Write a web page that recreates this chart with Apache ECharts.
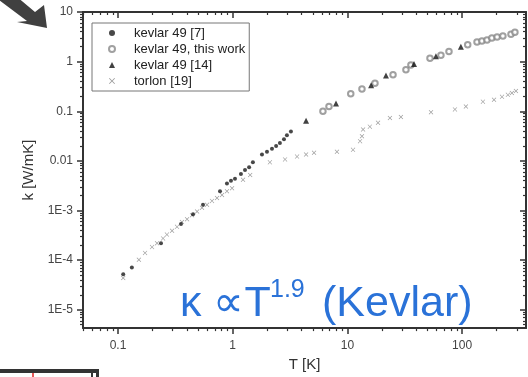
<!DOCTYPE html>
<html>
<head>
<meta charset="utf-8">
<script src="https://cdn.jsdelivr.net/npm/echarts@6/dist/echarts.min.js"></script>
<style>
  html, body { margin: 0; padding: 0; background: #fff; }
  #chart { width: 528px; height: 377px; }
</style>
</head>
<body>
<div id="chart"></div>
<script>
// axis ranges (log scale)
const X_MIN = 0.0495, X_MAX = 361
const Y_MIN = 4.27e-6, Y_MAX = 10
const X_MAJOR = [0.1, 1, 10, 100]
const Y_MAJOR = [1e-5, 1e-4, 1e-3, 0.01, 0.1, 1, 10]
const Y_LABELS = ['1E-5', '1E-4', '1E-3', '0.01', '0.1', '1', '10']
const MINOR_MULT = [2, 3, 4, 5, 6, 7, 8, 9]
const X_DECADES = [0.01, 0.1, 1, 10, 100]
const Y_DECADES = [1e-6, 1e-5, 1e-4, 1e-3, 0.01, 0.1, 1]

// kevlar 49 [7]
const k7T = [0.111, 0.132, 0.237, 0.354, 0.451, 0.551, 0.775, 0.891, 0.966, 1.047, 1.18, 1.28, 1.39, 1.50, 1.80, 1.99, 2.20, 2.39, 2.58, 2.80, 2.97, 3.22]
const k7K = [5.2e-5, 7.1e-5, 2.19e-4, 5.35e-4, 8.36e-4, 1.31e-3, 2.44e-3, 3.5e-3, 4.0e-3, 4.38e-3, 5.47e-3, 6.54e-3, 7.48e-3, 9.36e-3, 0.0134, 0.0153, 0.0175, 0.0200, 0.0229, 0.0273, 0.0327, 0.0391]

// kevlar 49, this work
const kwT = [6.12, 6.91, 10.7, 13.4, 17.4, 25.0, 32.4, 35.8, 52.5, 65.4, 76.9, 112, 135, 149, 165, 182, 202, 227, 267, 289]
const kwK = [0.100, 0.125, 0.224, 0.280, 0.366, 0.547, 0.684, 0.855, 1.17, 1.34, 1.60, 2.19, 2.50, 2.61, 2.73, 2.99, 3.13, 3.27, 3.58, 3.91]

// kevlar 49 [14]
const k14T = [4.36, 7.96, 16.1, 21.7, 38.1, 59.2, 97.7]
const k14K = [0.064, 0.143, 0.334, 0.523, 0.894, 1.28, 2.0]

// torlon [19]
const torT = [0.111, 0.152, 0.172, 0.198, 0.219, 0.247, 0.267, 0.296, 0.327, 0.361, 0.400, 0.442, 0.489, 0.540, 0.597, 0.660, 0.730, 0.807, 0.891, 0.987, 1.23, 1.42, 2.11, 2.86, 3.64, 4.36, 5.12, 8.11, 11.2, 12.9, 13.4, 13.7, 15.7, 18.5, 23.5, 29.3, 53.6, 86.7, 108, 152, 190, 223, 251, 272, 295]
const torK = [4.38e-5, 1.02e-4, 1.40e-4, 1.83e-4, 2.19e-4, 2.74e-4, 3.27e-4, 3.91e-4, 4.68e-4, 5.85e-4, 6.68e-4, 8.0e-4, 9.57e-4, 1.14e-3, 1.31e-3, 1.56e-3, 1.79e-3, 2.05e-3, 2.44e-3, 2.80e-3, 4.18e-3, 5.2e-3, 0.00935, 0.0107, 0.0122, 0.0134, 0.0146, 0.0153, 0.0167, 0.0250, 0.0313, 0.0428, 0.0489, 0.0585, 0.0731, 0.0764, 0.0957, 0.109, 0.125, 0.156, 0.171, 0.195, 0.214, 0.234, 0.256]

const zip = (xs, ys) => xs.map((x, i) => [x, ys[i]])
const minorOf = decades => decades.flatMap(d => MINOR_MULT.map(m => +(d * m).toPrecision(3)))
const X_MINOR = minorOf(X_DECADES).filter(v => v > X_MIN && v < X_MAX)
const Y_MINOR = minorOf(Y_DECADES).filter(v => v > Y_MIN && v < Y_MAX)

const AXIS_COLOR = '#333'
const FONT = 'Liberation Sans, Arial, sans-serif'
const CROSS = 'path://M0,1L1,0L5,4L9,0L10,1L6,5L10,9L9,10L5,6L1,10L0,9L4,5Z'

// one log axis: major or minor ticks, bottom/top or left/right
const makeAxis = (base, opts) => Object.assign({
  type: 'log',
  logBase: 10,
  gridIndex: 0,
  splitLine: { show: false },
  axisLine: { show: false },
  axisLabel: { show: false },
  axisTick: { show: false }
}, base, opts)

const chart = echarts.init(document.getElementById('chart'))

const xBase = { min: X_MIN, max: X_MAX }
const yBase = { min: Y_MIN, max: Y_MAX }

const option = {
  animation: false,
  textStyle: { fontFamily: FONT },
  grid: { left: 83, right: 2, top: 12, bottom: 37, containLabel: false },
  legend: {
    left: 92,
    top: 23,
    orient: 'vertical',
    itemWidth: 6,
    itemHeight: 6,
    itemGap: 0,
    symbolKeepAspect: true,
    padding: [2, 4, 2, 16],
    borderColor: '#777',
    borderWidth: 1,
    textStyle: { fontSize: 13, color: '#222', lineHeight: 16, fontFamily: FONT, padding: [0, 0, 0, 14] },
    data: ['kevlar 49 [7]', 'kevlar 49, this work', 'kevlar 49 [14]', 'torlon [19]']
  },
  xAxis: [
    makeAxis(xBase, {
      position: 'bottom',
      name: 'T [K]',
      nameLocation: 'middle',
      nameGap: 20,
      nameTextStyle: { fontSize: 15, color: '#333', fontFamily: FONT },
      axisLine: { show: true, lineStyle: { color: AXIS_COLOR, width: 2 } },
      axisTick: { show: true, length: 6, inside: false, customValues: X_MAJOR, lineStyle: { color: AXIS_COLOR, width: 1.5 } },
      axisLabel: { show: true, customValues: X_MAJOR, margin: 12, fontSize: 12, color: '#444', fontFamily: FONT, formatter: v => String(+v.toPrecision(3)) }
    }),
    makeAxis(xBase, {
      position: 'bottom',
      axisTick: { show: true, length: 3, inside: false, customValues: X_MINOR, lineStyle: { color: AXIS_COLOR, width: 1.2 } }
    }),
    makeAxis(xBase, {
      position: 'top',
      axisLine: { show: true, lineStyle: { color: AXIS_COLOR, width: 2 } },
      axisTick: { show: true, length: 6, inside: true, customValues: X_MAJOR, lineStyle: { color: AXIS_COLOR, width: 1.5 } }
    }),
    makeAxis(xBase, {
      position: 'top',
      axisTick: { show: true, length: 3, inside: true, customValues: X_MINOR, lineStyle: { color: AXIS_COLOR, width: 1.2 } }
    })
  ],
  yAxis: [
    makeAxis(yBase, {
      position: 'left',
      name: 'k [W/mK]',
      nameLocation: 'middle',
      nameGap: 41,
      nameTextStyle: { fontSize: 15, color: '#333', fontFamily: FONT },
      axisLine: { show: true, lineStyle: { color: AXIS_COLOR, width: 2 } },
      axisTick: { show: true, length: 6, inside: false, customValues: Y_MAJOR, lineStyle: { color: AXIS_COLOR, width: 1.5 } },
      axisLabel: {
        show: true, customValues: Y_MAJOR, margin: 10, fontSize: 12, color: '#444', fontFamily: FONT,
        formatter: v => {
          const i = Y_MAJOR.findIndex(m => Math.abs(Math.log10(m) - Math.log10(v)) < 1e-6)
          return i >= 0 ? Y_LABELS[i] : ''
        }
      }
    }),
    makeAxis(yBase, {
      position: 'left',
      axisTick: { show: true, length: 3, inside: false, customValues: Y_MINOR, lineStyle: { color: AXIS_COLOR, width: 1.2 } }
    }),
    makeAxis(yBase, {
      position: 'right',
      axisLine: { show: true, lineStyle: { color: AXIS_COLOR, width: 2 } },
      axisTick: { show: true, length: 6, inside: true, customValues: Y_MAJOR, lineStyle: { color: AXIS_COLOR, width: 1.5 } }
    }),
    makeAxis(yBase, {
      position: 'right',
      axisTick: { show: true, length: 3, inside: true, customValues: Y_MINOR, lineStyle: { color: AXIS_COLOR, width: 1.2 } }
    })
  ],
  series: [
    {
      name: 'kevlar 49 [7]',
      type: 'scatter',
      symbol: 'circle',
      symbolSize: 4,
      itemStyle: { color: '#1a1a1a' },
      data: zip(k7T, k7K),
      z: 3
    },
    {
      name: 'kevlar 49, this work',
      type: 'scatter',
      symbol: 'emptyCircle',
      symbolSize: 5.5,
      itemStyle: { color: '#888', borderWidth: 1 },
      data: zip(kwT, kwK),
      z: 2
    },
    {
      name: 'kevlar 49 [14]',
      type: 'scatter',
      symbol: 'triangle',
      symbolSize: 6,
      itemStyle: { color: '#111' },
      data: zip(k14T, k14K),
      z: 4
    },
    {
      name: 'torlon [19]',
      type: 'scatter',
      symbol: CROSS,
      symbolSize: 4.5,
      itemStyle: { color: '#808080' },
      data: zip(torT, torK),
      z: 2
    }
  ],
  graphic: [
    // arrow in the top-left corner
    {
      type: 'polygon',
      shape: { points: [[-5, -3], [27, 21], [17, 22], [47, 28], [44, 5], [35, 12], [4, -14]] },
      style: { fill: '#404040' }
    },
    // edge of the next figure, cut off at the bottom
    { type: 'rect', shape: { x: 0, y: 369, width: 98, height: 4 }, style: { fill: '#333' } },
    { type: 'rect', shape: { x: 91, y: 369, width: 2, height: 8 }, style: { fill: '#333' } },
    { type: 'rect', shape: { x: 96, y: 369, width: 3, height: 8 }, style: { fill: '#333' } },
    { type: 'line', shape: { x1: 33, y1: 373, x2: 33, y2: 377 }, style: { stroke: '#e02020', lineWidth: 1.5 } },
    // kappa ~ T^1.9 annotation
    {
      type: 'text', left: 180, top: 283, z: 10,
      style: { text: 'κ ∝T', font: '43px Liberation Sans, Arial, sans-serif', fill: '#2a72d8' }
    },
    {
      type: 'text', left: 270, top: 278, z: 10,
      style: { text: '1.9', font: '25px Liberation Sans, Arial, sans-serif', fill: '#2a72d8' }
    },
    {
      type: 'text', left: 322, top: 283, z: 10,
      style: { text: '(Kevlar)', font: '43px Liberation Sans, Arial, sans-serif', fill: '#2a72d8' }
    }
  ]
}

chart.setOption(option)
</script>
</body>
</html>
